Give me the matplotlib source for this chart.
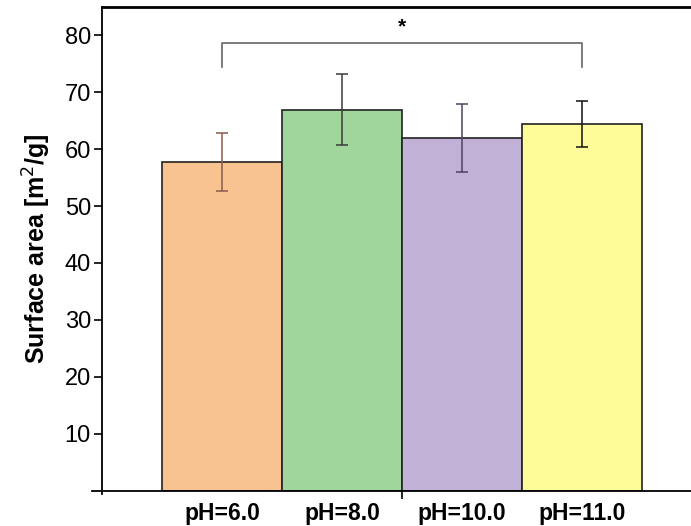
import matplotlib.pyplot as plt
import numpy as np

plt.rcParams['font.family'] = ['Liberation Sans', 'DejaVu Sans']

# BET surface area at each synthesis pH
labels = ['pH=6.0', 'pH=8.0', 'pH=10.0', 'pH=11.0']
surface_area = [57.7, 66.9, 61.9, 64.4]
errors = [5.1, 6.2, 6.0, 4.1]
bar_colors = ['#F9C291', '#A0D69B', '#C1B1D6', '#FEFB99']
err_colors = ['#8A5A4C', '#3A3A3A', '#4E4260', '#111111']
y_ticks = [10, 20, 30, 40, 50, 60, 70, 80]

x = np.arange(1, len(labels) + 1)

fig = plt.figure(figsize=(6.91, 5.26), dpi=100)
ax = fig.add_axes([0.1476, 0.0671, 0.8524, 0.919])

ax.bar(x, surface_area, width=1.0, color=bar_colors, edgecolor='#222222',
       linewidth=1.2, zorder=2)
for xi, val, err, ec in zip(x, surface_area, errors, err_colors):
    ax.errorbar(xi, val, yerr=err, fmt='none', ecolor=ec, elinewidth=1.1,
                capsize=4.5, capthick=1.1, zorder=3)

# significance bracket between pH 6 and pH 11
bx0, bx1 = x[0], x[-1]
by, bdrop = 78.7, 74.5
ax.plot([bx0, bx0, bx1, bx1], [bdrop, by, by, bdrop], color='#666666',
        linewidth=1.2, zorder=3)
ax.text((bx0 + bx1) / 2, 81.5, '*', ha='center', va='center',
        fontsize=15, fontweight='bold')

ax.set_xlim(0, 4.91)
ax.set_ylim(0, 84.9)

ax.set_yticks(y_ticks)
ax.tick_params(axis='y', direction='out', length=6, width=1.2,
               labelsize=17, pad=2)
ax.set_xticks(x)
ax.set_xticklabels(labels, fontsize=16.5, fontweight='bold')
ax.tick_params(axis='x', which='major', length=0, pad=8)
ax.set_xticks([2.5], minor=True)
ax.tick_params(axis='x', which='minor', direction='out', length=6, width=1.2)

ax.set_ylabel('Surface area [m$^2$/g]', fontsize=18, fontweight='bold',
              labelpad=8)

ax.spines['right'].set_visible(False)
ax.spines['top'].set_linewidth(2.0)
ax.spines['left'].set_linewidth(1.3)
ax.spines['bottom'].set_linewidth(1.3)
ax.spines['bottom'].set_bounds(-0.08, 4.91)
ax.spines['left'].set_bounds(-0.5, 84.9)

fig.savefig('out.png', dpi=100)
